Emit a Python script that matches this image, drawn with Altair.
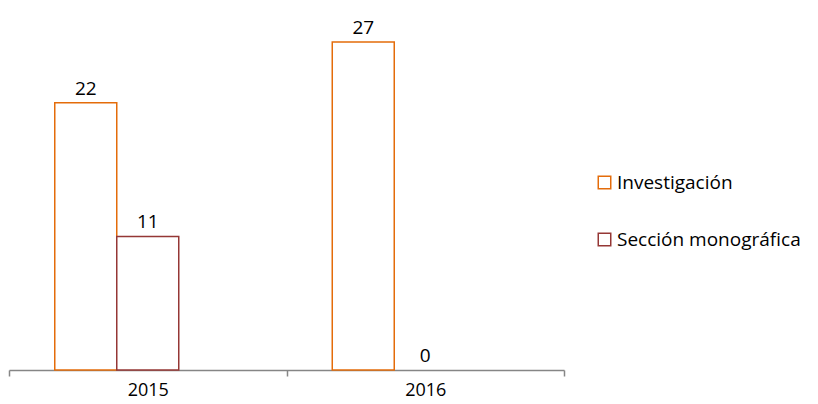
import altair as alt
import pandas as pd

years = ["2015", "2015", "2016", "2016"]
series = ["Investigación", "Sección monográfica", "Investigación", "Sección monográfica"]
values = [22, 11, 27, 0]
series_order = ["Investigación", "Sección monográfica"]
offset_slots = series_order + [" "]
colors = ["#E46C0A", "#953735"]

df = pd.DataFrame({"year": years, "series": series, "value": values})

FONT = "Open Sans"

x = alt.X(
    "year:N",
    scale=alt.Scale(paddingInner=0, paddingOuter=0),
    axis=alt.Axis(
        title=None, labelAngle=0, tickBand="extent",
        domainColor="#868686", tickColor="#868686", tickSize=6,
        domainWidth=1.5, tickWidth=1.5,
        labelFontSize=18, labelFont=FONT, labelColor="black", labelPadding=5,
    ),
)
xo = alt.XOffset(
    "series:N",
    scale=alt.Scale(domain=offset_slots, paddingInner=0, paddingOuter=0.738),
)
y = alt.Y("value:Q", scale=alt.Scale(domain=[0, 29.8], nice=False), axis=None)

base = alt.Chart(df).encode(x=x, xOffset=xo, y=y)

bars = base.transform_filter("datum.value > 0").mark_bar(
    fill="white", strokeWidth=1.5
).encode(
    stroke=alt.Stroke(
        "series:N",
        scale=alt.Scale(domain=series_order, range=colors),
        legend=alt.Legend(
            title=None, orient="none", legendX=586, legendY=165,
            symbolType="square", symbolSize=156, symbolFillColor="white",
            symbolStrokeWidth=1.5, labelFontSize=19, labelFont=FONT,
            labelColor="black", rowPadding=37, labelOffset=3, labelLimit=400,
        ),
    )
)

text = base.mark_text(dy=-14, fontSize=19, font=FONT, color="black").encode(
    text="value:Q"
)

chart = (
    alt.layer(bars, text)
    .properties(width=555, height=362, padding={"left": 0, "top": 0, "right": 0, "bottom": 0})
    .configure_view(stroke=None)
)

chart.save("out.html", embed_options={"renderer": "svg", "actions": False})
